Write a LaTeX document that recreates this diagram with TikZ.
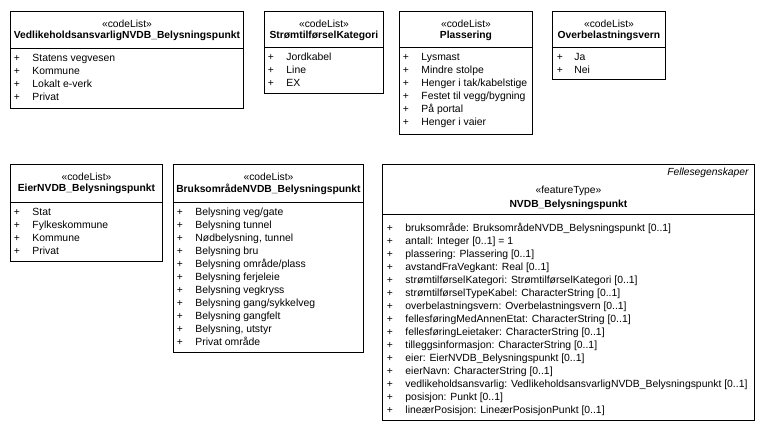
\documentclass[tikz,border=0pt]{standalone}
\usepackage{fontspec}
\setmainfont{Liberation Sans}
\usetikzlibrary{calc}

\begin{document}
\begin{tikzpicture}[x=1pt,y=-1pt,line width=.9pt,
  classbox/.style={draw,anchor=north west,inner sep=0},
  stereo/.style={font=\fontsize{10.3}{12}\selectfont,inner sep=0},
  cname/.style={font=\fontsize{10.3}{12}\selectfont\bfseries,inner sep=0},
  plus/.style={font=\fontsize{10.3}{12}\selectfont,anchor=base,inner sep=0},
  item/.style={font=\fontsize{10.4}{12}\selectfont,anchor=base west,inner sep=0}]
\useasboundingbox (0,0) rectangle (763,431);

% codeList: vedlikeholdsansvarlig
\node[classbox,minimum width=233pt,minimum height=97pt] (vedl) at (10,11) {};
\draw (vedl.west |- 0,48) -- (vedl.east |- 0,48);
\node[stereo] (vedl-st) at (vedl.north |- 0,24) {«codeList»};
\node[cname] (vedl-nm) at (vedl.north |- 0,36) {VedlikeholdsansvarligNVDB\_Belysningspunkt};
\foreach \t [count=\i] in {Statens vegvesen, Kommune, Lokalt e-verk, Privat} {
 \node[plus] (vedl-p\i) at (17,{48.8+13*\i}) {+};
 \node[item] (vedl-\i) at (32,{48.8+13*\i}) {\t};
}

% codeList: strømtilførsel
\node[classbox,minimum width=119pt,minimum height=82pt] (strom) at (264,11) {};
\draw (strom.west |- 0,47) -- (strom.east |- 0,47);
\node[stereo] (strom-st) at (strom.north |- 0,24) {«codeList»};
\node[cname] (strom-nm) at (strom.north |- 0,36) {StrømtilførselKategori};
\foreach \t [count=\i] in {Jordkabel, Line, EX} {
 \node[plus] (strom-p\i) at (271,{47.8+13*\i}) {+};
 \node[item] (strom-\i) at (286,{47.8+13*\i}) {\t};
}

% codeList: plassering
\node[classbox,minimum width=133pt,minimum height=123pt] (plass) at (399,11) {};
\draw (plass.west |- 0,47) -- (plass.east |- 0,47);
\node[stereo] (plass-st) at (plass.north |- 0,24) {«codeList»};
\node[cname] (plass-nm) at (plass.north |- 0,36) {Plassering};
\foreach \t [count=\i] in {Lysmast, Mindre stolpe, Henger i tak/kabelstige,
  Festet til vegg/bygning, På portal, Henger i vaier} {
 \node[plus] (plass-p\i) at (406,{47.8+13*\i}) {+};
 \node[item] (plass-\i) at (421,{47.8+13*\i}) {\t};
}

% codeList: overbelastningsvern
\node[classbox,minimum width=113pt,minimum height=68pt] (over) at (552,11) {};
\draw (over.west |- 0,47) -- (over.east |- 0,47);
\node[stereo] (over-st) at (over.north |- 0,24) {«codeList»};
\node[cname] (over-nm) at (over.north |- 0,36) {Overbelastningsvern};
\foreach \t [count=\i] in {Ja, Nei} {
 \node[plus] (over-p\i) at (560,{47.8+13*\i}) {+};
 \node[item] (over-\i) at (574,{47.8+13*\i}) {\t};
}

% codeList: eier
\node[classbox,minimum width=152pt,minimum height=97pt] (eier) at (10,164) {};
\draw (eier.west |- 0,202) -- (eier.east |- 0,202);
\node[stereo] (eier-st) at (eier.north |- 0,177) {«codeList»};
\node[cname] (eier-nm) at (eier.north |- 0,189) {EierNVDB\_Belysningspunkt};
\foreach \t [count=\i] in {Stat, Fylkeskommune, Kommune, Privat} {
 \node[plus] (eier-p\i) at (17,{202.8+13*\i}) {+};
 \node[item] (eier-\i) at (32,{202.8+13*\i}) {\t};
}

% codeList: bruksområde
\node[classbox,minimum width=190pt,minimum height=188pt] (bruk) at (173,164) {};
\draw (bruk.west |- 0,202) -- (bruk.east |- 0,202);
\node[stereo] (bruk-st) at (bruk.north |- 0,177) {«codeList»};
\node[cname] (bruk-nm) at (bruk.north |- 0,189) {BruksområdeNVDB\_Belysningspunkt};
\foreach \t [count=\i] in {Belysning veg/gate, Belysning tunnel, {Nødbelysning, tunnel},
  Belysning bru, Belysning område/plass, Belysning ferjeleie, Belysning vegkryss,
  Belysning gang/sykkelveg, Belysning gangfelt, {Belysning, utstyr}, Privat område} {
 \node[plus] (bruk-p\i) at (180,{202.8+13*\i}) {+};
 \node[item] (bruk-\i) at (195,{202.8+13*\i}) {\t};
}

% featureType
\node[classbox,minimum width=372pt,minimum height=256pt] (nvdb) at (382,164) {};
\draw (nvdb.west |- 0,214) -- (nvdb.east |- 0,214);
\node[stereo,anchor=east,font=\fontsize{10.3}{12}\selectfont\itshape] (nvdb-pkg) at (749,173) {Fellesegenskaper};
\node[stereo] (nvdb-st) at (nvdb.north |- 0,191) {«featureType»};
\node[cname] (nvdb-nm) at (nvdb.north |- 0,205) {NVDB\_Belysningspunkt};
\foreach \t [count=\i] in {
  bruksområde: BruksområdeNVDB\_Belysningspunkt [0..1],
  antall: Integer [0..1] = 1,
  plassering: Plassering [0..1],
  avstandFraVegkant: Real [0..1],
  strømtilførselKategori: StrømtilførselKategori [0..1],
  strømtilførselTypeKabel: CharacterString [0..1],
  overbelastningsvern: Overbelastningsvern [0..1],
  fellesføringMedAnnenEtat: CharacterString [0..1],
  fellesføringLeietaker: CharacterString [0..1],
  tilleggsinformasjon: CharacterString [0..1],
  eier: EierNVDB\_Belysningspunkt [0..1],
  eierNavn: CharacterString [0..1],
  vedlikeholdsansvarlig: VedlikeholdsansvarligNVDB\_Belysningspunkt [0..1],
  posisjon: Punkt [0..1],
  lineærPosisjon: LineærPosisjonPunkt [0..1]} {
 \node[plus] (nvdb-p\i) at (390,{218.8+13*\i}) {+};
 \node[item] (nvdb-\i) at (405,{218.8+13*\i}) {\t};
}
\end{tikzpicture}
\end{document}
